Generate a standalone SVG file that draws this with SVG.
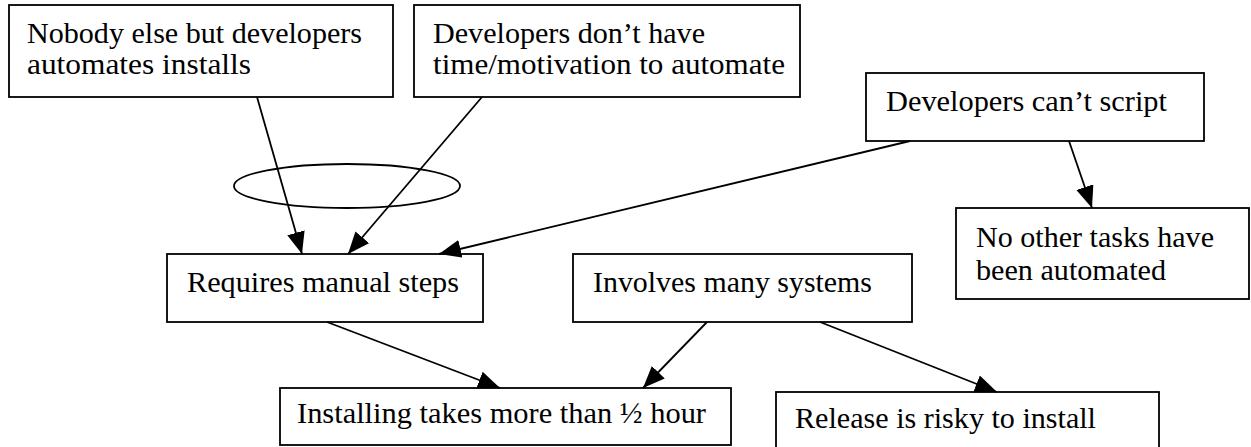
<svg xmlns="http://www.w3.org/2000/svg" width="1251" height="447" viewBox="0 0 1251 447">
<style>
.box{fill:#fff;stroke:#000;stroke-width:1.8}
.t{font-family:"Liberation Serif","Times New Roman",serif;font-size:30px;fill:#000}
.c{stroke:#000;stroke-width:1.8;fill:none}
</style>
<defs>
<marker id="ah" markerUnits="userSpaceOnUse" markerWidth="24" markerHeight="20" refX="22" refY="9" orient="auto">
<path d="M0,0 L22,9 L0,18 z" fill="#000"/>
</marker>
</defs>
<rect width="1251" height="447" fill="#fff"/>
<g id="n1"><rect class="box" x="9" y="5" width="384" height="92"/>
<text class="t" x="27" y="43" textLength="335" lengthAdjust="spacingAndGlyphs">Nobody else but developers</text>
<text class="t" x="27" y="74" textLength="224" lengthAdjust="spacingAndGlyphs">automates installs</text></g>
<g id="n2"><rect class="box" x="414" y="5" width="386" height="92"/>
<text class="t" x="433" y="43" textLength="272" lengthAdjust="spacingAndGlyphs">Developers don’t have</text>
<text class="t" x="433" y="74" textLength="352" lengthAdjust="spacingAndGlyphs">time/motivation to automate</text></g>
<g id="n3"><rect class="box" x="866" y="73" width="338" height="68"/>
<text class="t" x="886" y="111" textLength="281" lengthAdjust="spacingAndGlyphs">Developers can’t script</text></g>
<g id="n4"><rect class="box" x="956" y="208" width="293" height="91"/>
<text class="t" x="976" y="247" textLength="238" lengthAdjust="spacingAndGlyphs">No other tasks have</text>
<text class="t" x="976" y="280" textLength="190" lengthAdjust="spacingAndGlyphs">been automated</text></g>
<g id="n5"><rect class="box" x="167" y="254" width="316" height="68"/>
<text class="t" x="187" y="292" textLength="272" lengthAdjust="spacingAndGlyphs">Requires manual steps</text></g>
<g id="n6"><rect class="box" x="573" y="254" width="339" height="68"/>
<text class="t" x="593" y="292" textLength="279" lengthAdjust="spacingAndGlyphs">Involves many systems</text></g>
<g id="n7"><rect class="box" x="280" y="388" width="451" height="57"/>
<text class="t" x="297" y="423" textLength="409" lengthAdjust="spacingAndGlyphs">Installing takes more than ½ hour</text></g>
<g id="n8"><rect class="box" x="776" y="392" width="383" height="70"/>
<text class="t" x="795" y="428" textLength="301" lengthAdjust="spacingAndGlyphs">Release is risky to install</text></g>
<g id="ellipse"><ellipse class="c" cx="347" cy="186" rx="113" ry="22"/></g>
<g id="connectors">
<line class="c" x1="257" y1="97" x2="302" y2="254" marker-end="url(#ah)"/>
<line class="c" x1="482" y1="97" x2="348" y2="254" marker-end="url(#ah)"/>
<line class="c" x1="910" y1="141" x2="439" y2="254" marker-end="url(#ah)"/>
<line class="c" x1="1069" y1="141" x2="1092" y2="208" marker-end="url(#ah)"/>
<line class="c" x1="327" y1="322" x2="500" y2="388" marker-end="url(#ah)"/>
<line class="c" x1="707" y1="322" x2="643" y2="388" marker-end="url(#ah)"/>
<line class="c" x1="820" y1="322" x2="997" y2="392" marker-end="url(#ah)"/>
</g>
</svg>
